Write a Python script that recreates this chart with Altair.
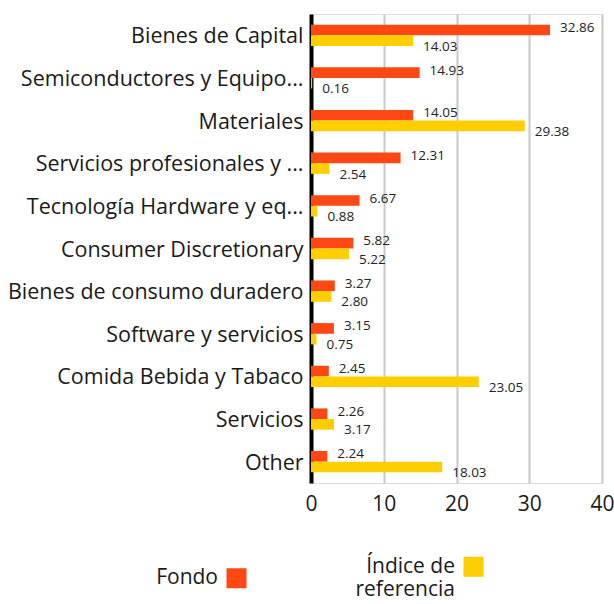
import altair as alt
import pandas as pd

categories = [
    "Bienes de Capital",
    "Semiconductores y Equipo...",
    "Materiales",
    "Servicios profesionales y ...",
    "Tecnología Hardware y eq...",
    "Consumer Discretionary",
    "Bienes de consumo duradero",
    "Software y servicios",
    "Comida Bebida y Tabaco",
    "Servicios",
    "Other",
]
fondo = [32.86, 14.93, 14.05, 12.31, 6.67, 5.82, 3.27, 3.15, 2.45, 2.26, 2.24]
indice = [14.03, 0.16, 29.38, 2.54, 0.88, 5.22, 2.80, 0.75, 23.05, 3.17, 18.03]
series = ["Fondo", "Índice de referencia"]
colors = ["#ff4713", "#ffce00"]
x_ticks = [0, 10, 20, 30, 40]

rows = []
for c, f, i in zip(categories, fondo, indice):
    rows.append({"cat": c, "serie": series[0], "val": f})
    rows.append({"cat": c, "serie": series[1], "val": i})
df = pd.DataFrame(rows)

FONT = "Open Sans"

y_enc = alt.Y("cat:N", sort=categories,
              scale=alt.Scale(paddingInner=0.5, paddingOuter=0.25),
              axis=alt.Axis(title=None, ticks=False, domain=True, domainColor="#000000",
                            domainWidth=4, labelFontSize=21.5, labelFont=FONT, labelColor="#1a1a1a",
                            labelPadding=8, labelLimit=400, grid=False, labelOffset=2))
x_enc = alt.X("val:Q", scale=alt.Scale(domain=[0, 40], nice=False),
              axis=alt.Axis(title=None, values=x_ticks, grid=True, gridColor="#c8c8c8",
                            gridWidth=2, domain=False, ticks=False, labelFontSize=21,
                            labelFont=FONT, labelColor="#1a1a1a", labelPadding=10, format="d",
                            labelFlush=False))
yoff = alt.YOffset("serie:N", sort=series, scale=alt.Scale(paddingInner=0, paddingOuter=0))

base = alt.Chart(df)

bars = base.mark_bar(cornerRadius=0).encode(
    y=y_enc,
    x=x_enc,
    yOffset=yoff,
    color=alt.Color("serie:N", sort=series,
                    scale=alt.Scale(domain=series, range=colors),
                    legend=alt.Legend(
                        title=None, orient="none", legendX=-85, legendY=542,
                        direction="horizontal", symbolType="square", symbolSize=400,
                        symbolStrokeWidth=0, symbolOpacity=1, labelAlign="right",
                        labelOffset=alt.ExprRef(expr="-29"), symbolOffset=0,
                        labelFontSize=21, labelFont=FONT, labelColor="#1a1a1a",
                        columnPadding=108, padding=0,
                        labelExpr="datum.label == 'Índice de referencia' ? ['Índice de', 'referencia'] : datum.label",
                    )),
)

txt_f = base.transform_filter(alt.datum.serie == series[0]).mark_text(
    align="left", baseline="middle", dx=10, dy=-2, fontSize=13.5, font=FONT, color="#222222"
).encode(y=alt.Y("cat:N", sort=categories), x="val:Q", yOffset=yoff,
         text=alt.Text("val:Q", format=".2f"))

txt_i = base.transform_filter(alt.datum.serie == series[1]).mark_text(
    align="left", baseline="middle", dx=10, dy=6, fontSize=13.5, font=FONT, color="#222222"
).encode(y=alt.Y("cat:N", sort=categories), x="val:Q", yOffset=yoff,
         text=alt.Text("val:Q", format=".2f"))

chart = alt.layer(bars, txt_f, txt_i).properties(
    width=291, height=469,
    autosize=alt.AutoSizeParams(type="none"),
    padding={"left": 311, "top": 14, "right": 12, "bottom": 121},
).configure_view(stroke=None).configure(background="white")

chart.save("out.html", embed_options={"renderer": "svg", "actions": False})
